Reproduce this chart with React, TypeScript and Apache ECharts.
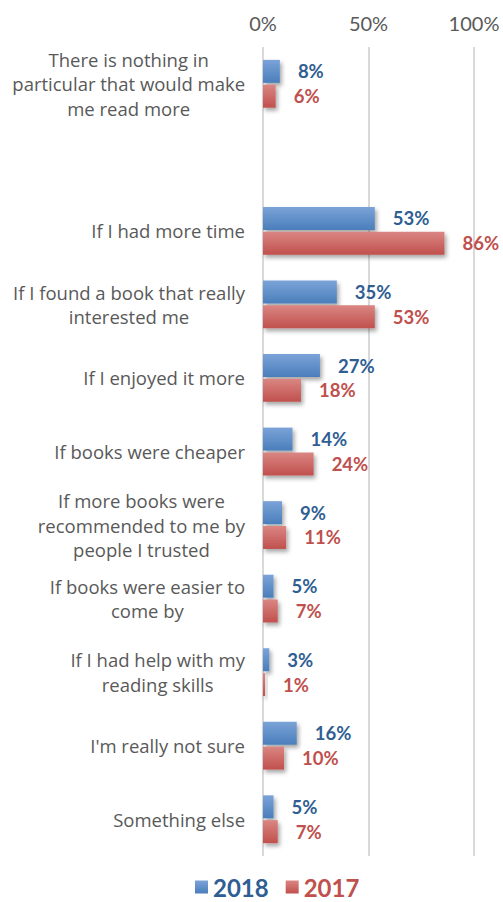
import React, { useEffect, useRef } from "react";
import * as echarts from "echarts";

const categories = [
  "There is nothing in\nparticular that would make\nme read more",
  "",
  "If I had more time",
  "If I found a book that really\ninterested me",
  "If I enjoyed it more",
  "If books were cheaper",
  "If more books were\nrecommended to me by\npeople I trusted",
  "If books were easier to\ncome by",
  "If I had help with my\nreading skills",
  "I'm really not sure",
  "Something else",
];
const values2018: (number | null)[] = [8, null, 53, 35, 27, 14, 9, 5, 3, 16, 5];
const values2017: (number | null)[] = [6, null, 86, 53, 18, 24, 11, 7, 1, 10, 7];
const xTicks = [0, 50, 100];

const FONT = "Lato, 'Open Sans', sans-serif";
const CAT_FONT = "'Open Sans', sans-serif";

export default function App() {
  const ref = useRef<HTMLDivElement>(null);
  useEffect(() => {
    if (!ref.current) return;
    const chart = echarts.init(ref.current, null, { renderer: "svg" });
    const grad = (top: string, bottom: string) =>
      new echarts.graphic.LinearGradient(0, 0, 0, 1, [
        { offset: 0, color: top },
        { offset: 1, color: bottom },
      ]);
    const shadow = {
      shadowBlur: 4,
      shadowOffsetX: 2,
      shadowOffsetY: 3,
      shadowColor: "rgba(0,0,0,0.35)",
    };
    chart.setOption({
      animation: false,
      grid: { left: 263, right: 29, top: 47, bottom: 46, containLabel: false },
      xAxis: {
        type: "value",
        position: "top",
        min: 0,
        max: 100,
        interval: 50,
        axisLine: { show: false },
        axisTick: { show: false },
        axisLabel: {
          formatter: (v: number) => (xTicks.includes(v) ? v + "%" : ""),
          color: "#595959",
          fontSize: 20,
          fontFamily: FONT,
          margin: 14,
        },
        splitLine: { show: true, lineStyle: { color: "#D9D9D9", width: 2 } },
      },
      yAxis: {
        type: "category",
        data: categories,
        inverse: true,
        axisLine: { show: false },
        axisTick: { show: false },
        axisLabel: {
          margin: 18,
          align: "right",
          formatter: (v: string) =>
            v
              .split("\n")
              .map((l) => "{c|" + l + "}")
              .join("\n"),
          rich: {
            c: {
              align: "center",
              color: "#595959",
              fontSize: 18.5,
              fontFamily: CAT_FONT,
              lineHeight: 24.5,
            },
          },
        },
      },
      legend: {
        bottom: 3,
        left: 190,
        padding: [0, 5, 0, 5],
        itemWidth: 13,
        itemHeight: 13,
        itemGap: 17,
        icon: "rect",
        data: [
          {
            name: "2018",
            textStyle: { color: "#2F5E93", fontWeight: "bold", fontSize: 24, lineHeight: 22, fontFamily: FONT },
          },
          {
            name: "2017",
            textStyle: { color: "#C0504D", fontWeight: "bold", fontSize: 24, lineHeight: 22, fontFamily: FONT },
          },
        ],
      },
      series: [
        {
          name: "2018",
          type: "bar",
          data: values2018,
          barCategoryGap: "35%",
          barGap: "8%",
          itemStyle: { color: grad("#7BA3D8", "#4A7EBB"), ...shadow },
          label: {
            show: true,
            position: "right",
            distance: 18,
            formatter: "{c}%",
            color: "#2F5E93",
            fontWeight: "bold",
            fontSize: 18.5,
            fontFamily: FONT,
          },
        },
        {
          name: "2017",
          type: "bar",
          data: values2017,
          barCategoryGap: "35%",
          barGap: "8%",
          itemStyle: { color: grad("#DA8683", "#C0504D"), ...shadow },
          label: {
            show: true,
            position: "right",
            distance: 18,
            formatter: "{c}%",
            color: "#C0504D",
            fontWeight: "bold",
            fontSize: 18.5,
            fontFamily: FONT,
          },
        },
      ],
    });
    return () => chart.dispose();
  }, []);
  return <div ref={ref} style={{ width: 503, height: 902, position: "absolute", left: 0, top: 0 }} />;
}
